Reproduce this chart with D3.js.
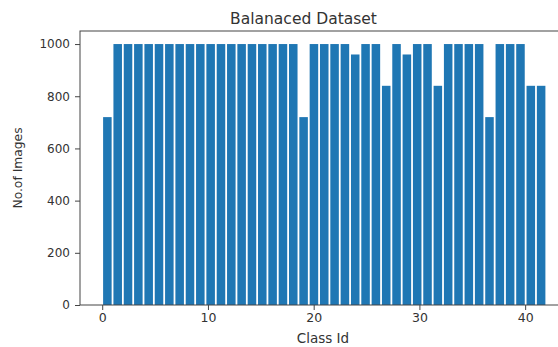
<!DOCTYPE html>
<html>
<head>
<meta charset="utf-8">
<script src="https://cdn.jsdelivr.net/npm/d3@7/dist/d3.min.js"></script>
<style>
  html, body { margin: 0; padding: 0; background: #fff; }
  svg { display: block; }
  text { font-family: "DejaVu Sans", sans-serif; fill: #333; }
</style>
</head>
<body>
<svg id="chart" width="558" height="347"></svg>
<script>
const classIds = [0,1,2,3,4,5,6,7,8,9,10,11,12,13,14,15,16,17,18,19,20,21,22,23,24,25,26,27,28,29,30,31,32,33,34,35,36,37,38,39,40,41,42];
const counts = [720,1000,1000,1000,1000,1000,1000,1000,1000,1000,1000,1000,1000,1000,1000,1000,1000,1000,1000,720,1000,1000,1000,1000,960,1000,1000,840,1000,960,1000,1000,840,1000,1000,1000,1000,720,1000,1000,1000,840,840];
const xTicks = [0,10,20,30,40];
const yTicks = [0,200,400,600,800,1000];
const chartTitle = "Balanaced Dataset";
const xLabel = "Class Id";
const yLabel = "No.of Images";

const svg = d3.select("#chart");
const mLeft = 80, mRight = 568.5, mTop = 31, mBottom = 305;
const x = d3.scaleLinear().domain([-2.1, 44.1]).range([mLeft, mRight]);
const y = d3.scaleLinear().domain([0, 1050]).range([mBottom, mTop]);
const binW = 42 / classIds.length;

// bars
svg.append("g").selectAll("rect").data(classIds).join("rect")
  .attr("x", d => x(d * binW) + 0.9)
  .attr("width", d => x((d + 1) * binW) - x(d * binW) - 1.8)
  .attr("y", (d, i) => y(counts[i]))
  .attr("height", (d, i) => y(0) - y(counts[i]))
  .attr("fill", "#1f77b4");

// frame
const frame = svg.append("g").attr("stroke", "#444").attr("stroke-width", 1).attr("fill", "none");
frame.append("rect").attr("x", mLeft).attr("y", mTop).attr("width", mRight - mLeft).attr("height", mBottom - mTop);

// x axis
const xa = svg.append("g").attr("transform", `translate(0,${mBottom})`)
  .call(d3.axisBottom(x).tickValues(xTicks).tickSize(5).tickPadding(3).tickFormat(d3.format("d")));
xa.select(".domain").remove();
xa.selectAll("line").attr("stroke", "#444");
xa.selectAll("text").attr("font-size", 12.5).attr("fill", "#333").attr("font-family", "DejaVu Sans");

// y axis
const ya = svg.append("g").attr("transform", `translate(${mLeft},0)`)
  .call(d3.axisLeft(y).tickValues(yTicks).tickSize(5).tickPadding(5).tickFormat(d3.format("d")));
ya.select(".domain").remove();
ya.selectAll("line").attr("stroke", "#444");
ya.selectAll("text").attr("font-size", 12).attr("fill", "#333").attr("font-family", "DejaVu Sans");

// title and labels
svg.append("text").attr("x", 303.5).attr("y", 24).attr("text-anchor", "middle")
  .attr("font-size", 15.5).text(chartTitle);
svg.append("text").attr("x", 323).attr("y", 343).attr("text-anchor", "middle")
  .attr("font-size", 13.5).text(xLabel);
svg.append("text").attr("transform", "translate(21.5,168) rotate(-90)").attr("text-anchor", "middle")
  .attr("font-size", 12.3).text(yLabel);
</script>
</body>
</html>
